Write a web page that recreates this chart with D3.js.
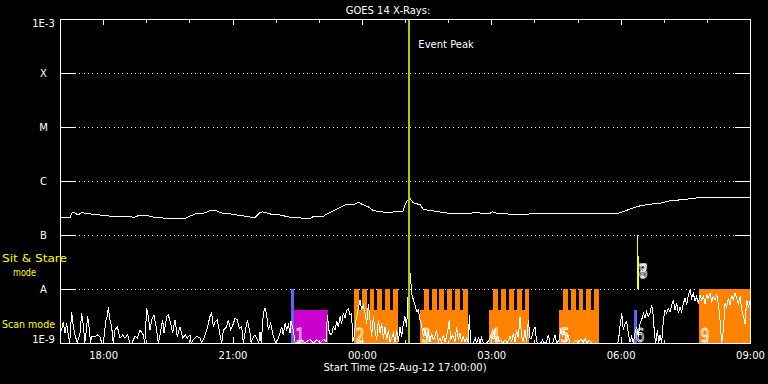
<!DOCTYPE html>
<html><head><meta charset="utf-8">
<script src="https://cdn.jsdelivr.net/npm/d3@7"></script>
<style>
html,body{margin:0;padding:0;background:#000;}
svg{display:block;background:#000;}
text{font-family:"DejaVu Sans",sans-serif;fill:#fff;}
</style></head><body>
<svg id="chart" width="768" height="384"></svg>
<script>
// ---------------- data ----------------
const titleText = "GOES 14 X-Rays:";
const startText = "Start Time (25-Aug-12 17:00:00)";
const startUTC = Date.UTC(2012, 7, 25, 17, 0, 0);
const spanHours = 16;
const levelValues = [1e-3, 1e-4, 1e-5, 1e-6, 1e-7, 1e-8, 1e-9];
const levelLabels = ["1E-3", "X", "M", "C", "B", "A", "1E-9"];
const eventPeakMin = 486;          // minutes after start
const eventPeakText = "Event Peak";
const modeLabelStare = ["Sit & Stare", "mode"];
const modeLabelScan = "Scan mode";

// long channel (1-8 A): [minutes after start, log10 flux]
const longChannel = [[0,-6.68],[14,-6.68],[17,-6.58],[21,-6.59],[25,-6.63],[31,-6.58],[35,-6.60],[42,-6.61],[56,-6.63],[70,-6.65],[83,-6.65],[104,-6.67],[111,-6.63],[125,-6.65],[132,-6.68],[153,-6.69],[174,-6.69],[188,-6.61],[202,-6.59],[209,-6.54],[216,-6.54],[223,-6.59],[237,-6.61],[257,-6.65],[271,-6.68],[278,-6.59],[282,-6.57],[292,-6.61],[306,-6.63],[320,-6.67],[334,-6.68],[337,-6.70],[348,-6.70],[352,-6.66],[366,-6.66],[369,-6.63],[376,-6.58],[385,-6.52],[397,-6.44],[410,-6.43],[416,-6.39],[420,-6.43],[429,-6.48],[435,-6.54],[445,-6.57],[455,-6.58],[469,-6.57],[477,-6.56],[481,-6.41],[484,-6.35],[487,-6.32],[491,-6.40],[501,-6.44],[505,-6.52],[515,-6.55],[525,-6.56],[533,-6.59],[552,-6.60],[580,-6.59],[598,-6.60],[601,-6.57],[608,-6.60],[636,-6.62],[654,-6.61],[696,-6.61],[751,-6.61],[772,-6.61],[779,-6.59],[793,-6.52],[807,-6.46],[821,-6.43],[835,-6.41],[848,-6.37],[862,-6.35],[876,-6.33],[883,-6.33],[886,-6.30],[960,-6.30]];

// short channel (0.5-4 A): [minutes after start, log10 flux]
const shortChannel = [[0,-8.80],[2.3,-8.76],[4.6,-8.61],[6.9,-8.82],[9.3,-8.64],[11.6,-8.85],[13.5,-9.05],[16.2,-8.42],[18.5,-8.70],[20.9,-8.85],[24,-9.05],[27.8,-8.82],[30.1,-8.45],[32.5,-8.67],[34.5,-9.05],[36.2,-8.82],[38.5,-8.51],[40.8,-8.76],[42.5,-9.05],[44.0,-8.88],[48.7,-8.88],[51.9,-8.85],[55.6,-8.88],[58,-9.05],[60.3,-9.0],[64.0,-8.57],[65.8,-8.51],[67.2,-8.34],[69.6,-8.57],[71.9,-8.70],[74,-9.05],[76.5,-8.76],[79.8,-8.70],[83.5,-8.91],[87.2,-8.85],[90.4,-8.91],[94.1,-8.85],[97.4,-9.0],[100,-9.05],[104.3,-8.88],[107.6,-8.91],[111.3,-8.76],[115.9,-8.85],[118,-9.05],[120.6,-8.36],[122.9,-8.51],[125.2,-8.76],[127.5,-8.57],[130.8,-8.48],[134.5,-8.76],[136.8,-9.05],[139.1,-8.85],[142.8,-8.57],[144.7,-8.82],[148.4,-8.51],[150.7,-8.48],[154.0,-8.64],[156.7,-8.82],[160.0,-8.57],[163.2,-8.88],[166.9,-8.70],[170.7,-8.91],[174.4,-8.85],[177.1,-8.91],[180.9,-8.85],[182.5,-9.05],[185.5,-8.94],[190.1,-8.88],[194.8,-8.91],[197,-9.05],[199.4,-8.94],[204.1,-8.76],[208.7,-8.51],[211.0,-8.45],[213.3,-8.70],[215.7,-8.61],[218.9,-8.57],[222.6,-8.85],[225,-9.05],[227.3,-8.76],[231.9,-8.70],[234.2,-8.57],[237.5,-8.76],[241.2,-8.64],[243.5,-8.54],[246.7,-8.57],[249.5,-8.73],[252.8,-8.70],[255,-9.05],[257.4,-8.82],[260.6,-8.57],[264.4,-8.82],[266,-9.05],[268.1,-8.91],[271.3,-8.85],[274.6,-8.94],[276.5,-9.05],[278.3,-8.79],[280,-9.05],[282.9,-8.45],[285.2,-8.36],[287.5,-8.48],[289.9,-8.76],[293.1,-8.64],[296.8,-8.88],[300.5,-9.0],[303.8,-8.91],
[306.1,-8.82],[308.4,-8.70],[310.7,-8.85],[313.1,-8.64],[315.4,-8.76],[317.7,-8.67],[320.0,-8.82],[321.4,-8.60],[323.7,-8.70],[327.0,-8.98],[331.6,-9.05],[336.3,-8.94],[340.9,-9.05],[347.8,-8.93],[352.5,-9.05],[357.1,-8.94],[361.8,-9.05],[367.3,-8.93],[370.1,-8.98],[372.0,-8.48],[374.7,-8.82],[378.0,-8.85],[380.3,-8.70],[382.6,-8.76],[385.0,-8.60],[387.3,-8.70],[389.6,-8.51],[391.9,-8.64],[394.2,-8.45],[396.5,-8.54],[398.9,-8.39],[401.2,-8.36],[403.5,-8.48],[405.8,-8.45],[407.2,-8.98],[409.1,-8.88],[411.8,-8.57],[415.1,-8.36],[417.4,-8.20],[419.7,-8.39],[422.1,-8.30],[424.4,-8.45],[426.7,-8.64],[429.0,-8.27],[431.3,-8.57],[433.6,-8.88],[436.0,-8.51],[438.3,-8.76],[440.6,-8.94],[442.9,-8.57],[445.2,-8.82],[447.6,-8.64],[449.9,-8.92],[452.2,-8.70],[454.5,-8.94],[456.8,-8.76],[459.2,-8.98],[463.8,-8.82],[466.1,-8.98],[468.4,-8.76],[470.8,-8.98],[473.1,-8.70],[475.4,-8.88],[477.7,-8.64],[480.0,-8.51],[482.3,-8.70],[484.7,-8.00],[487.5,-7.71],
[489.2,-8.08],[491.6,-8.20],[493.9,-8.30],[496.2,-8.42],[498.5,-8.39],[500.8,-8.57],[503.1,-8.67],[505.5,-8.88],[507.8,-8.76],[510.1,-8.94],[512.4,-8.76],[514.7,-8.98],[517.1,-8.82],[519.4,-8.94],[521.7,-8.88],[524.0,-8.76],[526.3,-8.98],[528.7,-8.91],[531.0,-8.98],[533.3,-8.85],[535.6,-8.98],[537.9,-8.88],[540.3,-8.70],[541.6,-8.57],[543.5,-8.94],[546.3,-8.85],[549.5,-8.98],[551.8,-8.70],[554.2,-8.94],[556.5,-8.82],[558.8,-8.98],[561.1,-8.88],[563.4,-8.98],[565.8,-8.91],[568.1,-9.0],[569.5,-8.48],[571.3,-9.0],[575.0,-9.04],[577.8,-8.91],[579.7,-9.04],[582.5,-8.90],[584.3,-9.04],[586.6,-8.90],[589.0,-9.04],[593.6,-9.04],[597.3,-8.94],[599.6,-8.85],[601.9,-8.76],[603.8,-8.82],[606.1,-8.98],[608.4,-8.88],[610.7,-8.98],[613.1,-8.93],[615.9,-9.0],[619.1,-8.94],[622.3,-9.0],[626.1,-8.88],[628.4,-8.98],[630.7,-8.82],[633.0,-8.98],[635.3,-8.76],[637.6,-8.91],[640.0,-8.51],[642.3,-8.88],[644.6,-8.98],[646.9,-8.76],[649.2,-8.98],[651.6,-8.57],[653.9,-8.91],
[656.2,-8.91],[658.6,-8.76],[660.9,-8.70],[663.2,-8.98],[665.5,-9.0],[668.8,-9.04],[671.5,-8.94],[673.4,-9.04],[677.1,-8.98],[679.4,-8.85],[681.7,-9.0],[685.5,-9.04],[688.7,-8.85],[691.0,-9.0],[694.7,-8.94],[696.6,-8.73],[699.4,-8.88],[701.7,-8.76],[704.0,-8.98],[706.3,-8.82],[709.6,-9.04],[714.2,-9.0],[717.9,-8.94],[721.2,-9.0],[724.4,-8.93],[728.1,-8.98],[730.9,-8.91],[732.8,-9.0],[736.5,-8.95],[739.7,-9.04],[749.0,-9.06],[760.6,-9.06],[774.5,-9.06],[776.8,-8.98],[779.1,-8.70],[781.5,-8.45],[783.8,-8.76],[786.1,-8.64],[788.4,-8.60],[790.7,-8.82],[793.1,-8.98],[795.4,-8.88],[797.7,-9.0],[800.0,-8.82],[802.3,-8.70],[804.6,-8.88],[807.0,-8.64],[809.3,-8.57],[811.6,-8.45],[813.9,-8.54],[816.2,-8.42],[818.6,-8.51],[820.9,-8.45],
[823.2,-8.30],[825.6,-8.51],[826.9,-8.82],[828.8,-9.0],[831.1,-8.76],[833.0,-9.0],[834.8,-8.85],[837.1,-9.0],[839.5,-8.57],[841.8,-8.39],[844.1,-8.45],[846.4,-8.36],[848.7,-8.42],[851.1,-8.30],[853.4,-8.20],[855.7,-8.39],[858.0,-8.27],[860.3,-8.45],[862.7,-8.33],[865.0,-8.42],[867.3,-8.27],[869.6,-8.17],[871.9,-8.30],[874.3,-8.11],[876.6,-8.02],[878.9,-8.17],[881.2,-8.08],[883.5,-8.23],[885.8,-8.14],[888.2,-8.27],[890.5,-8.11],[892.8,-8.20],[895.1,-8.14],[897.4,-8.27],[899.8,-8.11],[902.1,-8.17],[904.4,-8.08],[906.7,-8.23],[909.0,-8.14],[911.4,-8.20],[913.7,-8.11],[916.0,-8.27],[918.3,-8.57],[920.6,-9.0],[923.0,-8.76],[925.3,-8.27],[927.6,-8.33],[929.9,-8.17],[932.2,-8.30],[934.6,-8.11],[936.9,-8.20],[939.2,-8.08],[941.5,-8.17],[943.8,-8.27],[946.1,-8.14],[948.5,-8.39],[950.8,-8.51],[953.1,-8.64],[955.4,-8.20],[957.7,-8.33],[960.0,-8.23]];

// observation blocks: minutes after start, flux range, study kind, label
const obsBlocks = [
  {start:321.4, end:325.6, low:1e-9, high:1e-8,   kind:"blue",    label:""},
  {start:325.6, end:372.9, low:1e-9, high:4.1e-9, kind:"magenta", label:"1"},
  {start:409.0, end:470.3, low:1e-9, high:4.1e-9, kind:"orange",  label:"2"},
  {start:500.9, end:567.6, low:1e-9, high:4.1e-9, kind:"orange",  label:"3"},
  {start:596.9, end:652.5, low:1e-9, high:4.1e-9, kind:"orange",  label:"4"},
  {start:694.3, end:749.9, low:1e-9, high:4.1e-9, kind:"orange",  label:"5"},
  {start:798.6, end:802.8, low:1e-9, high:4.1e-9, kind:"blue",    label:"6"},
  {start:802.8, end:804.2, low:1e-8, high:1e-7,   kind:"yellow",  label:"7"},
  {start:803.3, end:805.6, low:1e-8, high:4.1e-8, kind:"yellow",  label:"8"},
  {start:889.0, end:960.0, low:1e-9, high:1e-8,   kind:"orange",  label:"9"}
];
// individual raster scans reaching the A level: [start, end] minutes
const scanTeeth = [
  [409.0,416.0],[420.2,427.1],[431.3,436.9],[441.0,448.0],[452.2,459.1],[463.3,470.3],
  [506.4,513.4],[517.6,524.5],[527.3,534.3],[538.4,545.4],[549.6,556.5],[560.7,567.6],
  [602.4,609.4],[613.6,620.5],[624.7,631.7],[635.8,642.8],[647.0,652.5],
  [699.8,706.8],[711.0,717.9],[722.1,727.7],[731.8,738.8],[742.9,749.9]
];

// ---------------- chart ----------------
const L = 60, R = 750, T = 19, B = 343;
const svg = d3.select("#chart");
const toDate = m => new Date(startUTC + m * 60000);
const x = d3.scaleUtc().domain([toDate(0), toDate(spanHours * 60)]).range([L, R]);
const y = d3.scaleLog().domain([1e-9, 1e-3]).range([B, T]).clamp(true);
const kindColor = d3.scaleOrdinal()
  .domain(["blue", "magenta", "orange", "yellow"])
  .range(["#6262ff", "#cc00cc", "#ff8200", "#ffff00"]);

// grid + level ticks
const gridLevels = levelValues.slice(1, -1);
const g = svg.append("g").attr("shape-rendering", "crispEdges");
g.selectAll("line.grid").data(gridLevels).join("line")
  .attr("x1", L + 15).attr("x2", R - 15)
  .attr("y1", d => Math.round(y(d)) + 0.5).attr("y2", d => Math.round(y(d)) + 0.5)
  .attr("stroke", "#fff").attr("stroke-dasharray", "1,3.3");
g.selectAll("line.tl").data(gridLevels).join("line")
  .attr("x1", L).attr("x2", L + 15)
  .attr("y1", d => Math.round(y(d)) + 0.5).attr("y2", d => Math.round(y(d)) + 0.5)
  .attr("stroke", "#fff");
g.selectAll("line.tr").data(gridLevels).join("line")
  .attr("x1", R - 15).attr("x2", R)
  .attr("y1", d => Math.round(y(d)) + 0.5).attr("y2", d => Math.round(y(d)) + 0.5)
  .attr("stroke", "#fff");

// observation blocks
const blk = svg.append("g").attr("shape-rendering", "crispEdges");
blk.selectAll("rect.obs").data(obsBlocks).join("rect")
  .attr("x", d => x(toDate(d.start)))
  .attr("width", d => Math.max(1, x(toDate(d.end)) - x(toDate(d.start))))
  .attr("y", d => y(d.high))
  .attr("height", d => y(d.low) - y(d.high))
  .attr("fill", d => kindColor(d.kind));
blk.selectAll("rect.tooth").data(scanTeeth).join("rect")
  .attr("x", d => x(toDate(d[0])))
  .attr("width", d => x(toDate(d[1])) - x(toDate(d[0])))
  .attr("y", y(1e-8))
  .attr("height", y(1e-9) - y(1e-8))
  .attr("fill", kindColor("orange"));

// light curves
const line = d3.line()
  .x(d => x(toDate(d[0])))
  .y(d => y(Math.pow(10, d[1])));
svg.append("path").datum(shortChannel).attr("d", line)
  .attr("fill", "none").attr("stroke", "#fff").attr("stroke-width", 1)
  .attr("shape-rendering", "crispEdges");
svg.append("path").datum(longChannel).attr("d", line)
  .attr("fill", "none").attr("stroke", "#fff").attr("stroke-width", 1)
  .attr("shape-rendering", "crispEdges");

// block labels (outlined digits)
svg.selectAll("text.blab").data(obsBlocks.filter(d => d.label)).join("text")
  .attr("x", d => x(toDate(d.start)) + 1.5)
  .attr("y", d => y(d.low) - (d.low > 1e-9 ? 11 : 1))
  .attr("font-family", "Liberation Sans, Arial, sans-serif")
  .attr("font-size", 20)
  .attr("textLength", 9).attr("lengthAdjust", "spacingAndGlyphs")
  .style("fill", "none").attr("stroke", "#fff").attr("stroke-width", 0.9)
  .text(d => d.label);

// event peak
const xp = x(toDate(eventPeakMin));
svg.append("line").attr("x1", xp).attr("x2", xp).attr("y1", T).attr("y2", B)
  .attr("stroke", "#9fd000").attr("stroke-width", 2).attr("shape-rendering", "crispEdges");
svg.append("text").attr("x", xp + 9).attr("y", 48).attr("font-size", 10).text(eventPeakText);

// axes frame with time ticks
const axG = svg.append("g").attr("shape-rendering", "crispEdges");
const hourTicks = d3.utcHour.every(1).range(toDate(0), toDate(spanHours * 60 + 1));
const majorTicks = d3.utcHour.every(3).range(toDate(0), toDate(spanHours * 60 + 1));
const topMinor = d3.axisTop(x).tickValues(hourTicks).tickSize(-3.5).tickSizeOuter(0).tickFormat("");
const topMajor = d3.axisTop(x).tickValues(majorTicks).tickSize(-6).tickSizeOuter(0).tickFormat("");
axG.append("g").attr("transform", `translate(0,${T})`).call(topMinor);
axG.append("g").attr("transform", `translate(0,${T})`).call(topMajor);
const botMinor = d3.axisBottom(x).tickValues(hourTicks).tickSize(-3.5).tickSizeOuter(0).tickFormat("");
const botMajor = d3.axisBottom(x).tickValues(majorTicks).tickSize(-6).tickSizeOuter(0).tickPadding(8.4)
  .tickFormat(d3.utcFormat("%H:%M"));
axG.append("g").attr("transform", `translate(0,${B})`).call(botMinor);
axG.append("g").attr("transform", `translate(0,${B})`).call(botMajor);
axG.selectAll("path.domain, .tick line").attr("stroke", "#fff");
axG.selectAll(".tick text").attr("fill", "#fff").style("fill", "#fff")
  .attr("font-family", "DejaVu Sans, sans-serif").attr("font-size", 10);
axG.append("line").attr("x1", L + 0.5).attr("x2", L + 0.5).attr("y1", T).attr("y2", B + 1).attr("stroke", "#fff");
axG.append("line").attr("x1", R + 0.5).attr("x2", R + 0.5).attr("y1", T).attr("y2", B + 1).attr("stroke", "#fff");

// level labels
svg.selectAll("text.lev").data(levelValues).join("text")
  .attr("x", 43.5)
  .attr("y", (d, i) => y(d) + (i === 0 ? 7.5 : (i === levelValues.length - 1 ? 0.3 : 4.3)))
  .attr("text-anchor", "middle").attr("font-size", 10)
  .text((d, i) => levelLabels[i]);

// mode labels
svg.append("text").attr("x", 2).attr("y", 262).attr("font-size", 10)
  .attr("textLength", 65).attr("lengthAdjust", "spacingAndGlyphs")
  .style("fill", "#ffff00").text(modeLabelStare[0]);
svg.append("text").attr("x", 13).attr("y", 275.5).attr("font-size", 10)
  .attr("textLength", 23).attr("lengthAdjust", "spacingAndGlyphs")
  .style("fill", "#ffff00").text(modeLabelStare[1]);
svg.append("text").attr("x", 2).attr("y", 328).attr("font-size", 10.5)
  .attr("textLength", 53).attr("lengthAdjust", "spacingAndGlyphs")
  .style("fill", "#ffff00").text(modeLabelScan);

// titles
svg.append("text").attr("x", 388).attr("y", 13.5).attr("text-anchor", "middle")
  .attr("font-size", 10).text(titleText);
svg.append("text").attr("x", 405).attr("y", 370.5).attr("text-anchor", "middle")
  .attr("font-size", 10).text(startText);
</script>
</body></html>
